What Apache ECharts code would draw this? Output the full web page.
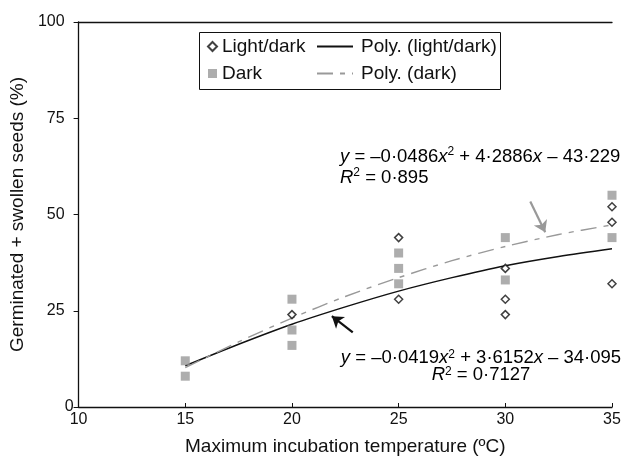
<!DOCTYPE html>
<html>
  <head>
    <meta charset="utf-8" />
    <title>Germination vs temperature</title>
    <script src="https://cdn.jsdelivr.net/npm/echarts@6/dist/echarts.min.js"></script>
    <style>
      body { margin: 0; background: #fff; }
    </style>
  </head>
  <body>
    <div id="main" style="width: 625px;height:461px;"></div>
    <script type="text/javascript">
      // scatter points (temperature, %)
      var ldTemp = [20, 25, 25, 30, 30, 30, 35, 35, 35];
      var ldPct  = [24, 44, 28, 36, 28, 24, 52, 48, 32];
      var dTemp  = [15, 15, 20, 20, 20, 25, 25, 25, 30, 30, 35, 35];
      var dPct   = [12, 8, 28, 20, 16, 40, 36, 32, 44, 33, 55, 44];

      // trend lines
      var fitTemp = [15, 17.5, 20, 22.5, 25, 27.5, 30, 32.5, 35];
      var fitLD   = [10.7, 16.3, 21.5, 26.0, 30.1, 33.6, 36.7, 39.1, 41.1];
      var fitD    = [10.2, 16.9, 23.1, 28.7, 33.6, 38.0, 41.7, 44.8, 47.3];

      function pairs(xs, ys) {
        var out = [];
        for (var i = 0; i < xs.length; i++) out.push([xs[i], ys[i]]);
        return out;
      }

      var FONT = 'Liberation Sans';
      var EQ = 18.5;
      var rich = {
        i: { fontFamily: FONT, fontSize: EQ, fontStyle: 'italic', color: '#111' },
        n: { fontFamily: FONT, fontSize: EQ, color: '#111' },
        s: { fontFamily: FONT, fontSize: 12, color: '#111', verticalAlign: 'top', padding: [0, 0, 6, 0] }
      };

      var myChart = echarts.init(document.getElementById('main'));
      var option = {
        animation: false,
        grid: { left: 77, right: 13, top: 22, bottom: 53 },
        textStyle: { fontFamily: FONT },
        legend: [
          {
            data: ['Light/dark', 'Dark'],
            orient: 'vertical',
            left: 202, top: 32,
            itemWidth: 9, itemHeight: 9, itemGap: 8,
            textStyle: { fontSize: 19, color: '#111', fontFamily: FONT }
          },
          {
            data: ['Poly. (light/dark)', 'Poly. (dark)'],
            orient: 'vertical',
            left: 311, top: 32,
            itemWidth: 36, itemHeight: 9, itemGap: 8,
            itemStyle: { opacity: 0 },
            textStyle: { fontSize: 19, color: '#111', fontFamily: FONT, padding: [0, 0, 0, 3] }
          }
        ],
        xAxis: [
          {
            type: 'value', min: 10, max: 35, interval: 5,
            name: 'Maximum incubation temperature (ºC)',
            nameLocation: 'middle', nameGap: 30,
            nameTextStyle: { fontSize: 19, color: '#111', fontFamily: FONT },
            axisLine: { lineStyle: { color: '#111', width: 1.3 } },
            axisTick: { inside: true, length: 4, lineStyle: { color: '#111' } },
            axisLabel: { fontSize: 16, color: '#111', margin: 5 },
            splitLine: { show: false }
          },
          {
            type: 'value', min: 10, max: 35, position: 'top',
            axisLine: { show: true, onZero: false, lineStyle: { color: '#111', width: 1.3 } },
            axisTick: { show: false }, axisLabel: { show: false }, splitLine: { show: false }
          }
        ],
        yAxis: {
          type: 'value', min: 0, max: 100, interval: 25,
          name: 'Germinated + swollen seeds (%)',
          nameLocation: 'middle', nameGap: 49,
          nameTextStyle: { fontSize: 19, color: '#111', fontFamily: FONT },
          axisLine: { show: true, lineStyle: { color: '#111', width: 1.3 } },
          axisTick: { show: true, length: 5, lineStyle: { color: '#111' } },
          axisLabel: {
            fontSize: 16, color: '#111', margin: 5,
            // the corner "0" sits closer to the axis than the others
            formatter: function (v) { return v === 0 ? '0' : v + '{p|}'; },
            rich: { p: { width: 9 } }
          },
          splitLine: { show: false }
        },
        series: [
          {
            name: 'Poly. (light/dark)', type: 'line', smooth: 0.3,
            data: pairs(fitTemp, fitLD), symbol: 'none', z: 2,
            lineStyle: { color: '#111', width: 1.5 },
            itemStyle: { color: '#111' },
            markLine: {
              silent: true, symbol: ['none', 'arrow'], symbolSize: 11,
              lineStyle: { color: '#111', width: 2.2, type: 'solid' },
              label: { show: false },
              data: [[{ coord: [22.85, 19.4] }, { coord: [21.87, 23.6] }]]
            }
          },
          {
            name: 'Poly. (dark)', type: 'line', smooth: 0.3,
            data: pairs(fitTemp, fitD), symbol: 'none', z: 2,
            lineStyle: { color: '#999', width: 1.4, type: [16, 7, 5, 7] },
            itemStyle: { color: '#999' },
            markLine: {
              silent: true, symbol: ['none', 'arrow'], symbolSize: 11,
              lineStyle: { color: '#999', width: 2.2, type: 'solid' },
              label: { show: false },
              data: [[{ coord: [31.17, 53.4] }, { coord: [31.87, 45.4] }]]
            }
          },
          {
            name: 'Light/dark', type: 'scatter', data: pairs(ldTemp, ldPct),
            symbol: 'diamond', symbolSize: 8, z: 4,
            itemStyle: { color: '#fff', borderColor: '#111', borderWidth: 1.5 }
          },
          {
            name: 'Dark', type: 'scatter', data: pairs(dTemp, dPct),
            symbol: 'rect', symbolSize: 9, z: 5,
            itemStyle: { color: '#999' }
          }
        ],
        graphic: [
          {
            type: 'rect', left: 197, top: 30, z: 10,
            shape: { width: 301, height: 57 },
            style: { fill: 'none', stroke: '#111', lineWidth: 1 }
          },
          {
            type: 'text', x: 340, y: 146, z: 10,
            style: {
              text: '{i|y}{n| = –0·0486}{i|x}{s|2}{n| + 4·2886}{i|x}{n| – 43·229}\n{i|R}{s|2}{n| = 0·895}',
              rich: rich, lineHeight: 21
            }
          },
          {
            type: 'text', x: 481, y: 349, z: 10,
            style: {
              text: '{i|y}{n| = –0·0419}{i|x}{s|2}{n| + 3·6152}{i|x}{n| – 34·095}\n{i|R}{s|2}{n| = 0·7127}',
              rich: rich, lineHeight: 17, align: 'center'
            }
          }
        ]
      };
      myChart.setOption(option);
    </script>
  </body>
</html>
